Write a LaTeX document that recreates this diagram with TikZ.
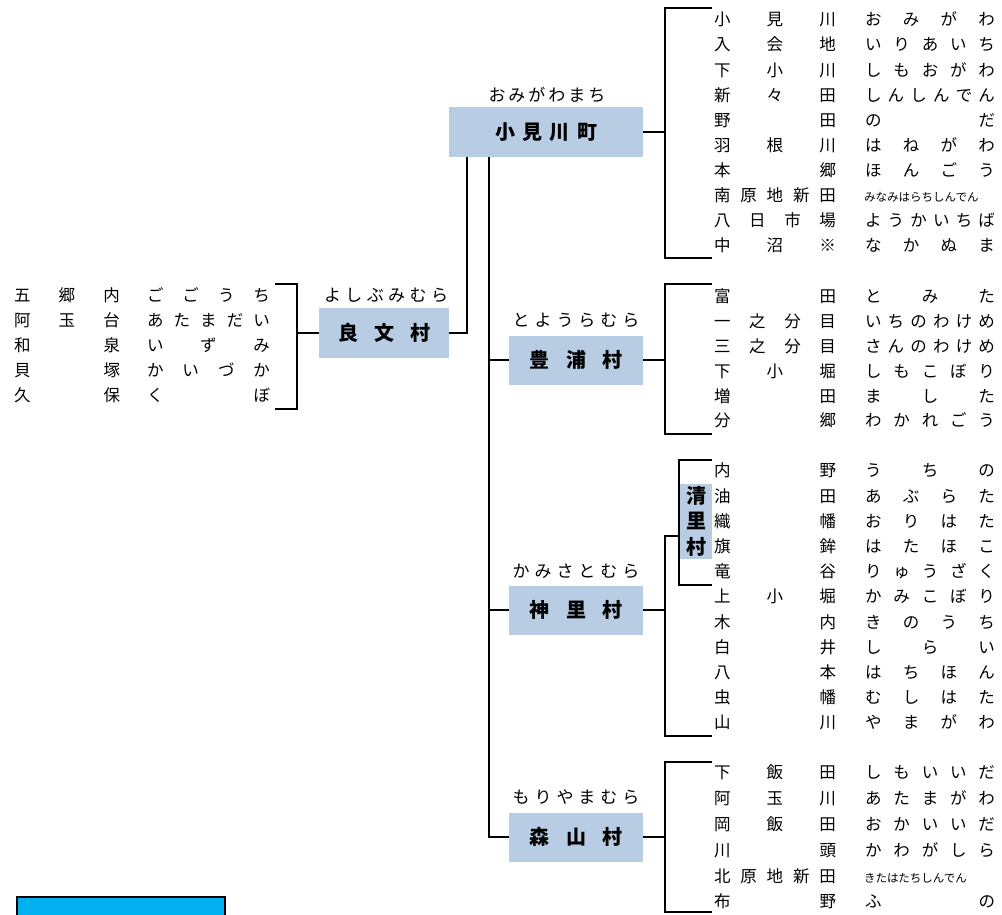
\documentclass[tikz,border=0pt]{standalone}
\usepackage{fontspec}
\setmainfont{Noto Sans CJK JP}
\usetikzlibrary{calc}
\definecolor{boxblue}{RGB}{184,204,228}
\definecolor{tagcyan}{RGB}{0,176,240}
\makeatletter
\newcommand\spread[2]{\edef\sp@list{#2}\makebox[#1]{\expandafter\sp@loop\sp@list\sp@end}}
\def\sp@loop#1#2\sp@end{#1\ifx\relax#2\relax\else\hfill\sp@loop#2\sp@end\fi}
\makeatother
\tikzset{bracket/.style={line width=2.2pt}}
\tikzset{vbox/.style={fill=boxblue,inner sep=0pt,font=\fontsize{20}{20}\selectfont\bfseries},
		 yomi/.style={inner sep=0pt,text height=.88em,text depth=.12em,font=\fontsize{17}{17}\selectfont},
		 kanji/.style={inner sep=0pt,text height=.88em,text depth=.12em,font=\fontsize{16.5}{16.5}\selectfont},
		 kana/.style={kanji},
		 smallkana/.style={kanji,anchor=west,font=\fontsize{11.5}{11.5}\selectfont}}

\begin{document}
\begin{tikzpicture}[x=1pt,y=-1pt]
	\useasboundingbox (0,0) rectangle (1002,914);

	% villages
	\node[vbox,minimum width=130pt,minimum height=50pt] (yoshi) at (384,333) {\spread{92pt}{良文村}};
	\node[vbox,minimum width=194pt,minimum height=50pt] (omi) at (546,132) {\spread{102pt}{小見川町}};
	\node[vbox,minimum width=134pt,minimum height=49pt] (toyo) at (576,360) {\spread{93pt}{豊浦村}};
	\node[vbox,minimum width=134pt,minimum height=49pt] (kami) at (576,610) {\spread{93pt}{神里村}};
	\node[vbox,minimum width=134pt,minimum height=49pt] (mori) at (576,837) {\spread{93pt}{森山村}};
	\node[vbox,minimum width=32pt,minimum height=75pt,align=center,
		font=\fontsize{20}{25.5}\selectfont\bfseries] (kiyo) at (696,521) {清\\里\\村};

	\node[yomi] (yoshi-y) at (386,298) {\spread{124pt}{よしぶみむら}};
	\node[yomi] (omi-y) at (547,98) {\spread{117pt}{おみがわまち}};
	\node[yomi] (toyo-y) at (576,323) {\spread{127pt}{とようらむら}};
	\node[yomi] (kami-y) at (576,574) {\spread{127pt}{かみさとむら}};
	\node[yomi] (mori-y) at (576,800) {\spread{127pt}{もりやまむら}};

	% connectors
	\coordinate (up) at (467,157);
	\coordinate (trunk) at (489,157);
	\draw[bracket] (yoshi.east) -| (up);
	\draw[bracket] (trunk) |- (mori.west);
	\draw[bracket] (toyo.west) -- (toyo.west -| trunk);
	\draw[bracket] (kami.west) -- (kami.west -| trunk);

	\foreach \n/\t/\b in {omi/8/258, toyo/284/434, mori/762/912}
	{
		\draw[bracket] (\n.east) -- (\n.east -| 665,0);
		\draw[bracket] (712,\t) -- (665,\t) -- (665,\b) -- (712,\b);
	}
	\draw[bracket] (kami.east) -- (kami.east -| 665,0);
	\draw[bracket] (679,536) -- (665,536) -- (665,736) -- (712,736);
	\draw[bracket] (712,460) -- (679,460) -- (679,585) -- (712,585);
	\draw[bracket] (yoshi.west) -- (yoshi.west -| 297,0);
	\draw[bracket] (275,284) -- (297,284) -- (297,409) -- (275,409);

	% place names
	\foreach \kan/\kana [count=\i] in {五郷内/ごごうち, 阿玉台/あたまだい, 和泉/いずみ, 貝塚/かいづか, 久保/くぼ}
	{
		\node[kanji] (yoshi-k\i) at (67,{298+25*(\i-1)}) {\spread{106pt}{\kan}};
		\node[kana] (yoshi-r\i) at (208.5,{298+25*(\i-1)}) {\spread{123pt}{\kana}};
	}
	\foreach \kan/\kana [count=\i] in {小見川/おみがわ, 入会地/いりあいち, 下小川/しもおがわ, 新々田/しんしんでん,
		野田/のだ, 羽根川/はねがわ, 本郷/ほんごう, 南原地新田/, 八日市場/ようかいちば, 中沼※/なかぬま}
	{
		\node[kanji] (omi-k\i) at (775,{22+25.1*(\i-1)}) {\spread{122pt}{\kan}};
		\ifx\kana\empty\else
		\node[kana] (omi-r\i) at (930,{22+25.1*(\i-1)}) {\spread{130pt}{\kana}};
		\fi
	}
	\node[smallkana] (omi-r8) at (864,{22+25.1*7}) {みなみはらちしんでん};

	\foreach \kan/\kana [count=\i] in {富田/とみた, 一之分目/いちのわけめ, 三之分目/さんのわけめ, 下小堀/しもこぼり,
		増田/ました, 分郷/わかれごう}
	{
		\node[kanji] (toyo-k\i) at (775,{299+24.8*(\i-1)}) {\spread{122pt}{\kan}};
		\node[kana] (toyo-r\i) at (930,{299+24.8*(\i-1)}) {\spread{130pt}{\kana}};
	}
	\foreach \kan/\kana [count=\i] in {内野/うちの, 油田/あぶらた, 織幡/おりはた, 旗鉾/はたほこ, 竜谷/りゅうざく,
		上小堀/かみこぼり, 木内/きのうち, 白井/しらい, 八本/はちほん, 虫幡/むしはた, 山川/やまがわ}
	{
		\node[kanji] (kami-k\i) at (775,{473+25.2*(\i-1)}) {\spread{122pt}{\kan}};
		\node[kana] (kami-r\i) at (930,{473+25.2*(\i-1)}) {\spread{130pt}{\kana}};
	}
	\foreach \kan/\kana [count=\i] in {下飯田/しもいいだ, 阿玉川/あたまがわ, 岡飯田/おかいいだ, 川頭/かわがしら,
		北原地新田/, 布野/ふの}
	{
		\node[kanji] (mori-k\i) at (775,{775+25.8*(\i-1)}) {\spread{122pt}{\kan}};
		\ifx\kana\empty\else
		\node[kana] (mori-r\i) at (930,{775+25.8*(\i-1)}) {\spread{130pt}{\kana}};
		\fi
	}
	\node[smallkana] (mori-r5) at (864,{775+25.8*4}) {きたはたちしんでん};

	\draw[line width=2pt,fill=tagcyan] (17,897) rectangle (225,930);
\end{tikzpicture}
\end{document}
